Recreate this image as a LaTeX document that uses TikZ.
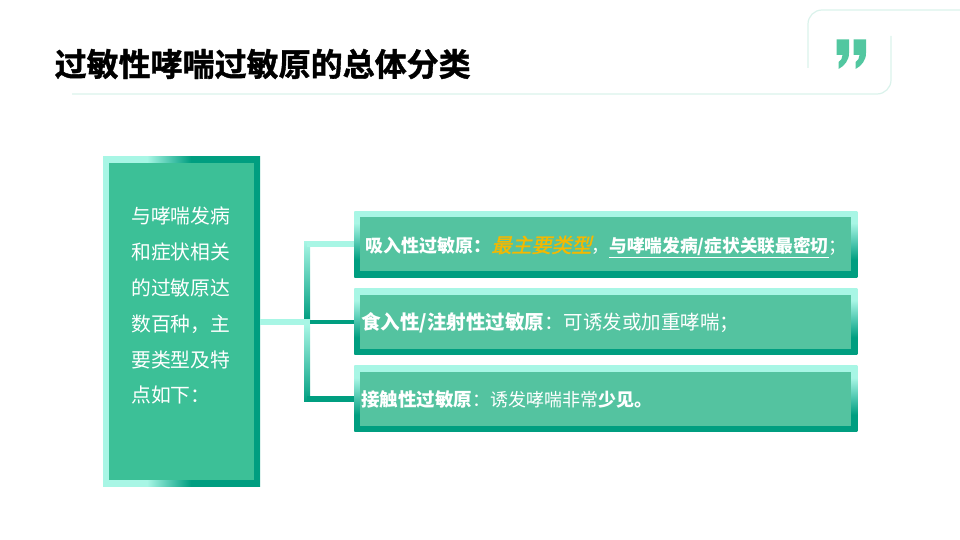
\documentclass[tikz,border=0pt]{standalone}
\usepackage{fontspec}
\setmainfont{Noto Sans CJK SC}
\newfontfamily\slantcjk[FakeSlant=0.25,FakeBold=1.5]{Noto Sans CJK SC}
\newfontfamily\titlecjk[FakeBold=1.2]{Noto Sans CJK SC Bold}
\usepackage{xcolor}
\usetikzlibrary{positioning, calc}
\definecolor{mintlight}{RGB}{168,246,229}
\definecolor{mintdark}{RGB}{0,158,128}
\definecolor{mintfill}{RGB}{60,192,151}
\definecolor{rowfill}{RGB}{84,195,160}
\definecolor{framegreen}{RGB}{218,242,235}
\definecolor{quotegreen}{RGB}{82,199,160}
\definecolor{keygold}{RGB}{245,184,0}
\pgfdeclarehorizontalshading{leftshade}{100bp}{color(0bp)=(mintlight); color(39bp)=(mintlight); color(53bp)=(mintdark); color(100bp)=(mintdark)}
\pgfdeclareverticalshading{rowshade}{100bp}{color(0bp)=(mintdark); color(38bp)=(mintdark); color(66bp)=(mintlight); color(100bp)=(mintlight)}
\tikzset{
  leftbox/.style={rectangle, shading=leftshade, minimum width=157pt, minimum height=329pt,
    inner sep=0pt, path picture={
      \fill[mintfill] ([shift={(6pt,6pt)}]path picture bounding box.south west)
        rectangle ([shift={(-6pt,-6pt)}]path picture bounding box.north east);}},
  rowbox/.style={rectangle, shading=rowshade, minimum width=503pt, minimum height=66pt,
    inner xsep=7pt, inner ysep=0pt, text width=489pt, text depth=0pt, align=left, text=white,
    font=\fontsize{18}{22}\selectfont, path picture={
      \fill[rowfill] ([shift={(6pt,6pt)}]path picture bounding box.south west)
        rectangle ([shift={(-6pt,-6pt)}]path picture bounding box.north east);}},
  linklight/.style={line width=6pt, mintlight},
  linkdark/.style={line width=6pt, mintdark},
  frameline/.style={line width=1.2pt, framegreen, rounded corners=14pt}
}
\newcommand{\keytext}[1]{{\slantcjk\fontsize{20}{22}\selectfont\textcolor{keygold}{#1}}}
\begin{document}
\begin{tikzpicture}[x=1pt,y=-1pt]
  \useasboundingbox (0,0) rectangle (960,540);
  % header frame
  \draw[frameline] (808,68) -- (808,10) -- (960,10);
  \draw[frameline] (72,94) -- (891,94) -- (891,36);
  \foreach \qx in {0,17}{
    \fill[quotegreen, xshift=\qx pt] (836.7,39.3) -- (849,39.3) -- (849,53)
      .. controls (849,61) and (844,66) .. (838.5,69) -- (838.5,62)
      .. controls (841,60.5) and (842.5,58) .. (842.5,55) -- (836.7,55) -- cycle;
  }
  \node[anchor=west, inner sep=0pt, font=\titlecjk\fontsize{32}{34}\selectfont] (title) at (54.5,64) {过敏性哮喘过敏原的总体分类};
  % left box and rows
  \node[leftbox] (intro) at (181.5,321.5) {};
  \node[anchor=north west, inner sep=0pt, text=white, align=left, font=\fontsize{19.8}{35.8}\selectfont] (introtext) at (131,207)
    {与哮喘发病\\和症状相关\\的过敏原达\\数百种，主\\要类型及特\\点如下：};
  \node[rowbox, right=94pt of intro] (row2) {\fontsize{19.5}{22}\selectfont\textbf{食入性/注射性过敏原}：可诱发或加重哮喘；};
  \node[rowbox, above=11pt of row2] (row1) {\hspace*{4pt}\textbf{吸入性过敏原：}\keytext{最主要类型}，\underline{\fontsize{17.7}{22}\selectfont\textbf{与哮喘发病/症状关联最密切}}；};
  \node[rowbox, below=11pt of row2] (row3) {{\fontsize{18.5}{22}\selectfont\textbf{接触性过敏原}}：诱发哮喘非常\textbf{少见。}};
  % connectors
  \coordinate[right=47pt of intro.east] (junc);
  \shade[top color=mintlight, bottom color=mintdark]
    ($(junc |- row1.west)+(-3,-3)$) rectangle ($(junc)+(3,-2)$);
  \shade[top color=mintlight, bottom color=mintdark]
    ($(junc)+(-3,3)$) rectangle ($(junc |- row3.west)+(3,3)$);
  \draw[linklight] (junc |- row1.west) -- (row1.west);
  \draw[linkdark, line width=4pt] ($(junc)+(3,0)$) -- (row2.west);
  \draw[linklight] (intro.east) -- ($(junc)+(3,0)$);
  \draw[linkdark] (junc |- row3.west) -- (row3.west);
\end{tikzpicture}
\end{document}
